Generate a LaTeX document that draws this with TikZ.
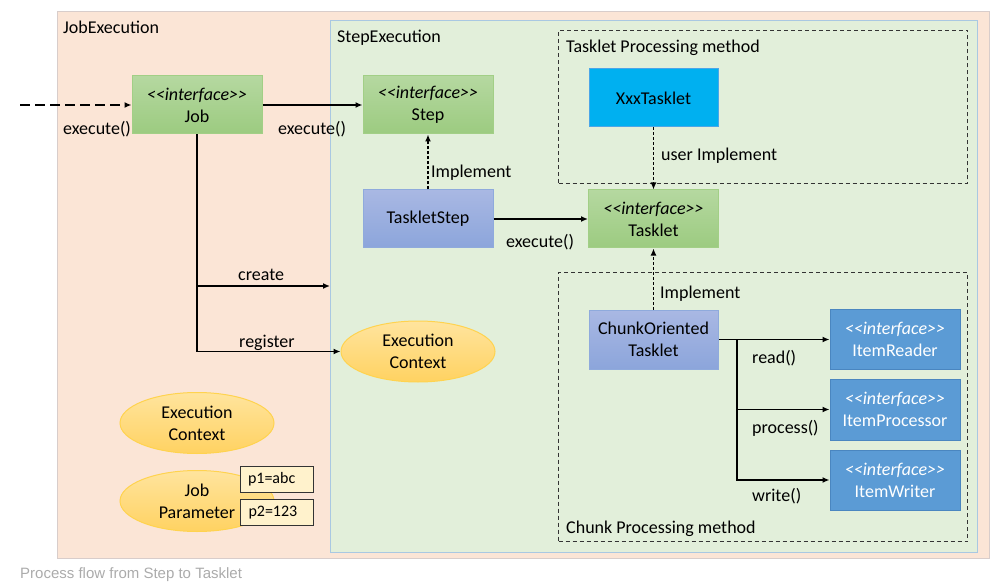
\documentclass[tikz,border=0pt]{standalone}
\usepackage{fontspec}
\setmainfont{Carlito}
\newfontfamily\capfont{Liberation Sans}
\usetikzlibrary{arrows.meta,shapes.geometric,calc}

\definecolor{jobbg}{HTML}{FBE5D6}
\definecolor{jobbd}{HTML}{D8CDCB}
\definecolor{stepbg}{HTML}{E2EFDA}
\definecolor{stepbd}{HTML}{A9C8E2}
\definecolor{grtop}{HTML}{B5D8A0}
\definecolor{grbot}{HTML}{9CCB80}
\definecolor{grbd}{HTML}{A2CF86}
\definecolor{putop}{HTML}{A9B8E3}
\definecolor{pubot}{HTML}{8CA5DB}
\definecolor{pubd}{HTML}{8FAADC}
\definecolor{itfill}{HTML}{5B9BD5}
\definecolor{itbd}{HTML}{4A86C0}
\definecolor{xxfill}{HTML}{00B0F0}
\definecolor{xxbd}{HTML}{4BA6E8}
\definecolor{eltop}{HTML}{FFE49E}
\definecolor{elbot}{HTML}{FFD261}
\definecolor{elbd}{HTML}{FFD34F}
\definecolor{pfill}{HTML}{FFF2CC}
\definecolor{capgray}{HTML}{ABABAB}

\tikzset{
  txt/.style={font=\fontsize{18}{22}\selectfont},
  box/.style={rectangle, minimum width=130pt, minimum height=58pt, inner sep=0pt, align=center, txt},
  ifbox/.style={box, top color=grtop, bottom color=grbot, draw=grbd, line width=1pt},
  implbox/.style={box, top color=putop, bottom color=pubot, draw=pubd, line width=1pt},
  itembox/.style={box, minimum height=60pt, fill=itfill, draw=itbd, text=white, line width=1pt},
  ctx/.style={ellipse, minimum width=154pt, minimum height=61pt, inner sep=0pt, align=center,
              top color=eltop, bottom color=elbot, draw=elbd, line width=1pt, txt},
  pbox/.style={rectangle, minimum height=26pt, text width=57pt, inner xsep=8pt, inner ysep=0pt,
               align=left, fill=pfill, draw=black!80, line width=1pt, font=\fontsize{16}{18}\selectfont},
  lbl/.style={anchor=west, inner sep=0pt, text height=18pt, text depth=3pt, txt},
  flow/.style={line width=1.5pt, -{Latex[length=7pt,width=6pt]}},
  impl/.style={flow, dash pattern=on 3pt off 2pt},
  region/.style={draw=black!80, line width=1pt, dash pattern=on 4pt off 3pt},
}

\begin{document}
\begin{tikzpicture}[x=1pt,y=-1pt]
\useasboundingbox (0,0) rectangle (996,588);

% containers
\node (jobexec) [rectangle, anchor=north west, minimum width=932pt, minimum height=547pt,
  inner sep=0pt, fill=jobbg, draw=jobbd, line width=1pt] at (57,11) {};
\node (stepexec) [rectangle, anchor=north west, minimum width=647pt, minimum height=532pt,
  inner sep=0pt, fill=stepbg, draw=stepbd, line width=1pt] at (330,20) {};
\node (taskreg) [rectangle, anchor=north west, minimum width=409pt, minimum height=153pt,
  inner sep=0pt, region] at (558,30) {};
\node (chunkreg) [rectangle, anchor=north west, minimum width=409pt, minimum height=269pt,
  inner sep=0pt, region] at (558,272) {};

\node (jobexeclbl) [lbl] at (63,26) {JobExecution};
\node (stepexeclbl) [lbl] at (337,35) {StepExecution};
\node (taskreglbl) [lbl] at (566,45) {Tasklet Processing method};
\node (chunkreglbl) [lbl] at (566,526) {Chunk Processing method};

% boxes
\node (job) [ifbox] at (197,105) {\textit{<{}<interface>{}>}\\Job};
\node (step) [ifbox] at (428,105) {\textit{<{}<interface>{}>}\\Step};
\node (taskletstep) [implbox] at (428,219) {TaskletStep};
\node (tasklet) [ifbox] at (653.5,219) {\textit{<{}<interface>{}>}\\Tasklet};
\node (xxx) [box, minimum width=129pt, fill=xxfill, draw=xxbd, line width=1pt] at (653.5,98) {XxxTasklet};
\node (chunk) [implbox, minimum width=129pt, minimum height=59pt] at (653.5,339.5) {ChunkOriented\\Tasklet};
\node (reader) [itembox] at (895,339.5) {\textit{<{}<interface>{}>}\\ItemReader};
\node (processor) [itembox, minimum height=61pt] at (895,409.5) {\textit{<{}<interface>{}>}\\ItemProcessor};
\node (writer) [itembox] at (895,480) {\textit{<{}<interface>{}>}\\ItemWriter};

% contexts
\node (ctxstep) [ctx] at (418,351.5) {Execution\\Context};
\node (ctxjob) [ctx] at (197,423) {Execution\\Context};
\node (jobparam) [ctx] at (197,501) {Job\\Parameter};
\node (p1) [pbox] at (276.5,479) {p1=abc};
\node (p2) [pbox] at (277,512.5) {p2=123};

% connectors
\coordinate (start) at (20,105);
\draw[flow, dash pattern=on 10pt off 5pt] (start) -- (job.west);
\node (lexec1) [lbl] at (63,127) {execute()};

\draw[flow] (job.east) -- (step.west);
\node (lexec2) [lbl] at (278,127) {execute()};

\draw[impl] (taskletstep.north) -- (step.south);
\node (limpl1) [lbl] at (431,170) {Implement};

\draw[flow] (taskletstep.east) -- (tasklet.west);
\node (lexec3) [lbl] at (506,240) {execute()};

\draw[impl] (xxx.south) -- (tasklet.north);
\node (luser) [lbl] at (661,153) {user Implement};

\draw[impl] (chunk.north) -- (tasklet.south);
\node (limpl2) [lbl] at (660,291) {Implement};

\coordinate (createend) at (330,286);
\draw[flow] (job.south) |- (createend);
\draw[flow] (job.south) |- (ctxstep.west);
\node (lcreate) [lbl] at (238,273) {create};
\node (lregister) [lbl] at (239,340) {register};

\coordinate (br) at (737,339.5);
\draw[flow] (chunk.east) -- (reader.west);
\draw[flow] (br) |- (processor.west);
\draw[flow] (br) |- (writer.west);
\node (lread) [lbl] at (752,356) {read()};
\node (lprocess) [lbl] at (752,426) {process()};
\node (lwrite) [lbl] at (752,494) {write()};

% caption
\node (caption) [anchor=west, inner sep=0pt, text=capgray, font=\capfont\fontsize{15}{17}\selectfont] at (20,575) {Process flow from Step to Tasklet};
\end{tikzpicture}
\end{document}
